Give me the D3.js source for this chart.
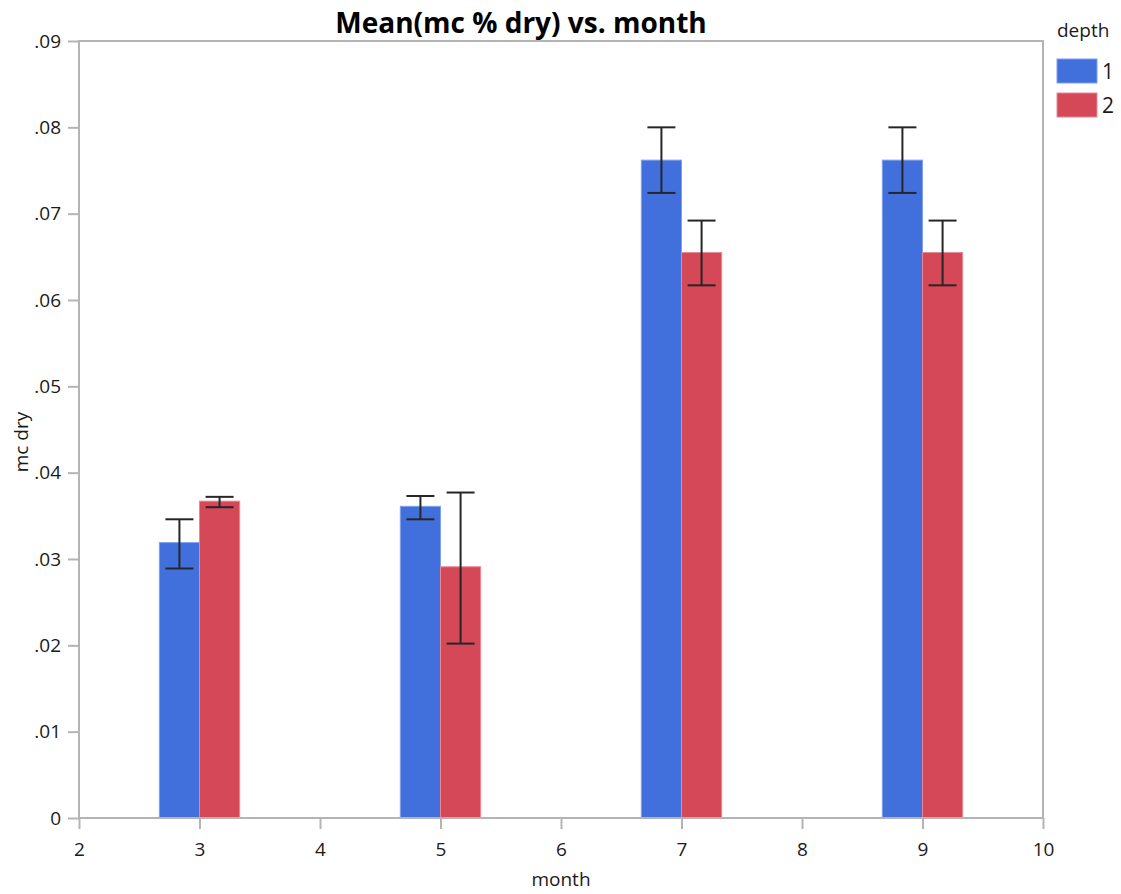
<!DOCTYPE html>
<html>
<head>
<meta charset="utf-8">
<script src="https://cdn.jsdelivr.net/npm/d3@7"></script>
<style>
  body { margin: 0; background: #fff; }
  svg { display: block; font-family: "Open Sans", "Noto Sans", sans-serif; }
</style>
</head>
<body>
<div id="chart"></div>
<script>
// 数据
const months = [3, 5, 7, 9];
const depths = ['1', '2'];
const meanDepth1 = [0.0319, 0.0361, 0.0762, 0.0762];
const lowDepth1 = [0.0289, 0.0346, 0.0724, 0.0724];
const highDepth1 = [0.0346, 0.0373, 0.0800, 0.0800];
const meanDepth2 = [0.0367, 0.0291, 0.0655, 0.0655];
const lowDepth2 = [0.0360, 0.0202, 0.0617, 0.0617];
const highDepth2 = [0.0372, 0.0377, 0.0692, 0.0692];
const xTicks = [2, 3, 4, 5, 6, 7, 8, 9, 10];
const yTicks = [0, 0.01, 0.02, 0.03, 0.04, 0.05, 0.06, 0.07, 0.08, 0.09];

const W = 1121, H = 894;
const margin = {left: 79, right: 78, top: 41, bottom: 76};
const colors = ['#4170dd', '#d44857'];
const edge = ['#7da0ee', '#e58a94'];
const axisColor = '#b4b4b4';

const svg = d3.select('#chart').append('svg')
  .attr('width', W).attr('height', H);

const x = d3.scaleLinear().domain([2, 10]).range([margin.left, W - margin.right]);
const y = d3.scaleLinear().domain([0, 0.09]).range([H - margin.bottom, margin.top]);

// 整理每组柱子的数据
const series = [
  {depth: depths[0], mean: meanDepth1, low: lowDepth1, high: highDepth1, offset: -1 / 3},
  {depth: depths[1], mean: meanDepth2, low: lowDepth2, high: highDepth2, offset: 0}
];
const barW = 1 / 3;

// 坐标轴
const fmtY = v => v === 0 ? '0' : d3.format('.2f')(v).replace(/^0/, '');
const yAxis = svg.append('g')
  .attr('transform', `translate(${margin.left},0)`)
  .call(d3.axisLeft(y).tickValues(yTicks).tickFormat(fmtY).tickSize(11).tickPadding(7));
const xAxis = svg.append('g')
  .attr('transform', `translate(0,${H - margin.bottom})`)
  .call(d3.axisBottom(x).tickValues(xTicks).tickFormat(d3.format('d')).tickSize(11).tickPadding(14));
[xAxis, yAxis].forEach(a => {
  a.selectAll('.domain').remove();
  a.selectAll('line').attr('stroke', axisColor).attr('stroke-width', 2);
  a.selectAll('text').attr('font-size', 19).attr('fill', '#1a1a1a')
    .attr('font-family', '"Open Sans", "Noto Sans", sans-serif');
});

// 柱子
series.forEach((s, si) => {
  const g = svg.append('g');
  g.selectAll('rect').data(months).join('rect')
    .attr('x', (m) => x(m + s.offset))
    .attr('width', x(barW) - x(0))
    .attr('y', (m, i) => y(s.mean[i]))
    .attr('height', (m, i) => y(0) - y(s.mean[i]))
    .attr('fill', colors[si])
    .attr('stroke', edge[si])
    .attr('stroke-width', 1);
});

// 外框
svg.append('rect')
  .attr('x', margin.left).attr('y', margin.top)
  .attr('width', W - margin.left - margin.right)
  .attr('height', H - margin.top - margin.bottom)
  .attr('fill', 'none').attr('stroke', axisColor).attr('stroke-width', 2);

// 误差线
series.forEach((s) => {
  const g = svg.append('g').attr('stroke', '#262626').attr('stroke-width', 2);
  months.forEach((m, i) => {
    const cx = x(m + s.offset + barW / 2);
    const cap = 14;
    g.append('line').attr('x1', cx).attr('x2', cx).attr('y1', y(s.low[i])).attr('y2', y(s.high[i]));
    g.append('line').attr('x1', cx - cap).attr('x2', cx + cap).attr('y1', y(s.low[i])).attr('y2', y(s.low[i]));
    g.append('line').attr('x1', cx - cap).attr('x2', cx + cap).attr('y1', y(s.high[i])).attr('y2', y(s.high[i]));
  });
});

// 标题
svg.append('text')
  .attr('x', 521).attr('y', 33)
  .attr('text-anchor', 'middle')
  .attr('font-size', 28).attr('font-weight', 700).attr('fill', '#000')
  .text('Mean(mc % dry) vs. month');

// 坐标轴标题
svg.append('text')
  .attr('x', x(6)).attr('y', 886)
  .attr('text-anchor', 'middle')
  .attr('font-size', 19).attr('fill', '#1a1a1a')
  .text('month');
svg.append('text')
  .attr('transform', `translate(28,442) rotate(-90)`)
  .attr('text-anchor', 'middle')
  .attr('font-size', 19).attr('fill', '#1a1a1a')
  .text('mc dry');

// 图例
const legend = svg.append('g');
legend.append('text')
  .attr('x', 1057).attr('y', 37)
  .attr('font-size', 19).attr('fill', '#1a1a1a')
  .text('depth');
depths.forEach((d, i) => {
  legend.append('rect')
    .attr('x', 1057).attr('y', 59 + i * 34)
    .attr('width', 40).attr('height', 24)
    .attr('fill', colors[i]).attr('stroke', edge[i]).attr('stroke-width', 1);
  legend.append('text')
    .attr('x', 1102).attr('y', 79 + i * 34)
    .attr('font-size', 21).attr('fill', '#1a1a1a')
    .text(d);
});
</script>
</body>
</html>
